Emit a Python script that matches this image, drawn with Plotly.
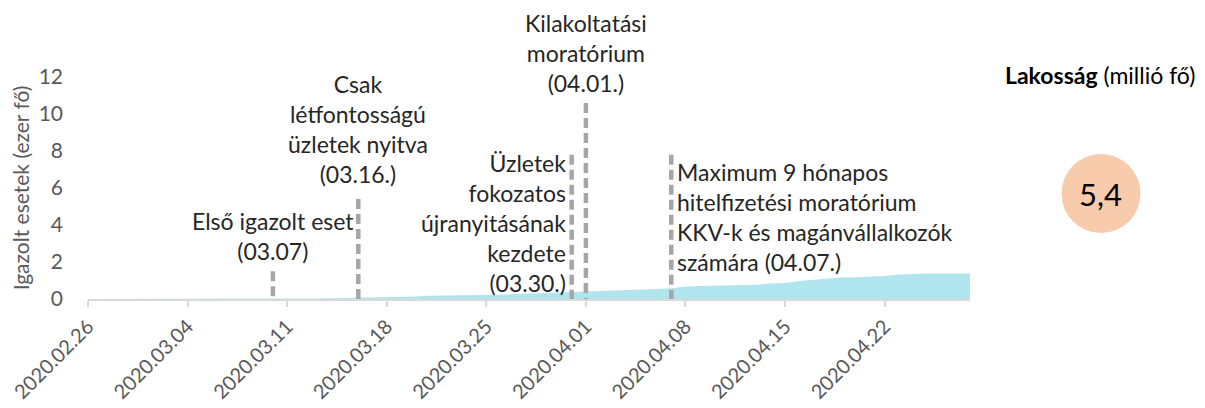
import plotly.graph_objects as go
import pandas as pd

# ---- data ----
dates = pd.date_range("2020-02-26", "2020-04-28", freq="D").strftime("%Y-%m-%d").tolist()
cases_k = [0, 0, 0, 0, 0, 0, 0, 0, 0,  # 02.26 - 03.05
           0.001, 0.003, 0.005, 0.007, 0.007, 0.010, 0.016, 0.032, 0.044, 0.054,  # 03.06 - 03.15
           0.063, 0.072, 0.105, 0.123, 0.137, 0.178, 0.185, 0.186, 0.204, 0.216,  # 03.16 - 03.25
           0.226, 0.269, 0.292, 0.314, 0.336, 0.363,  # 03.26 - 03.31
           0.400, 0.426, 0.450, 0.471, 0.485, 0.534, 0.581, 0.682, 0.701, 0.715,  # 04.01 - 04.10
           0.728, 0.742, 0.769, 0.835, 0.863, 0.977, 1.049, 1.089, 1.161, 1.173,  # 04.11 - 04.20
           1.199, 1.244, 1.325, 1.360, 1.373, 1.379, 1.381, 1.384]  # 04.21 - 04.28

event_dates = ["2020-03-10", "2020-03-16", "2020-03-31", "2020-04-01", "2020-04-07"]
event_heights = [1.5, 5.4, 7.8, 10.6, 7.8]
event_labels = [
    "Első igazolt eset<br>(03.07)",
    "Csak<br>létfontosságú<br>üzletek nyitva<br>(03.16.)",
    "Üzletek<br>fokozatos<br>újranyitásának<br>kezdete<br>(03.30.)",
    "Kilakoltatási<br>moratórium<br>(04.01.)",
    "Maximum 9 hónapos<br>hitelfizetési moratórium<br>KKV-k és magánvállalkozók<br>számára (04.07.)",
]
population_label = "<b>Lakosság</b> (millió fő)"
population_value = "5,4"

FONT = "Lato"
TXT = "#262626"
GRAY = "#595959"

fig = go.Figure()
fig.add_trace(go.Scatter(
    x=dates, y=cases_k, mode="lines", line=dict(width=0, color="#B1E5ED"),
    fill="tozeroy", fillcolor="#B1E5ED", hoverinfo="skip", showlegend=False))

# dashed event lines
lx, ly = [], []
for d, h in zip(event_dates, event_heights):
    lx += [d, d, None]
    ly += [h, 0, None]
fig.add_trace(go.Scatter(
    x=lx, y=ly, mode="lines",
    line=dict(color="#A6A6A6", width=4.5, dash="10px,5px"),
    hoverinfo="skip", showlegend=False))

# annotations
cfg = [
    dict(xanchor="center", yanchor="bottom", xshift=0, yshift=4, align="center"),
    dict(xanchor="center", yanchor="bottom", xshift=0, yshift=9, align="center"),
    dict(xanchor="right", yanchor="top", xshift=-4, yshift=8, align="right"),
    dict(xanchor="center", yanchor="bottom", xshift=0, yshift=4, align="center"),
    dict(xanchor="left", yanchor="top", xshift=4, yshift=-1, align="left"),
]
for d, h, t, c in zip(event_dates, event_heights, event_labels, cfg):
    fig.add_annotation(x=d, y=h, xref="x", yref="y", text=t, showarrow=False,
                       font=dict(family=FONT, size=23, color=TXT), **c)

# right-side population indicator
fig.add_annotation(x=1.147, y=1.009, xref="paper", yref="paper", text=population_label,
                   showarrow=False, xanchor="center", yanchor="middle",
                   font=dict(family=FONT, size=23, color="#000000"))
fig.add_shape(type="circle", xref="paper", yref="paper",
              xsizemode="pixel", ysizemode="pixel",
              xanchor=1.1485, yanchor=0.475, x0=-39.5, x1=39.5, y0=-39.5, y1=39.5,
              fillcolor="#F8CBAD", line=dict(width=0))
fig.add_annotation(x=1.1485, y=0.475, xref="paper", yref="paper", text=population_value,
                   showarrow=False, xanchor="center", yanchor="middle",
                   font=dict(family=FONT, size=31, color="#000000"))

# page body adds an 8px offset, so the figure is sized 8px smaller
fig.update_layout(
    width=1197, height=400,
    margin=dict(l=80, r=235, t=69, b=109, autoexpand=False),
    paper_bgcolor="white", plot_bgcolor="white",
    showlegend=False,
    font=dict(family=FONT, color=GRAY),
)
fig.update_xaxes(
    type="date", range=["2020-02-26", "2020-04-28"], automargin=False,
    tick0="2020-02-26", dtick=7 * 24 * 3600 * 1000, tickformat="%Y.%m.%d",
    tickangle=-45, tickfont=dict(family=FONT, size=20, color=GRAY),
    ticklabeloverflow="allow",
    showgrid=False, zeroline=False,
    showline=True, linecolor="#D9D9D9", linewidth=2,
    ticks="outside", ticklen=6, tickcolor="#D9D9D9", tickwidth=2,
)
fig.update_yaxes(
    range=[0, 12], dtick=2, showgrid=False, zeroline=False, showline=False,
    automargin=False,
    tickfont=dict(family=FONT, size=21, color=GRAY), ticklabelstandoff=24,
    title=dict(text="Igazolt esetek (ezer fő)", standoff=4,
               font=dict(family=FONT, size=21, color=GRAY)),
)

fig.write_html("out.html")
